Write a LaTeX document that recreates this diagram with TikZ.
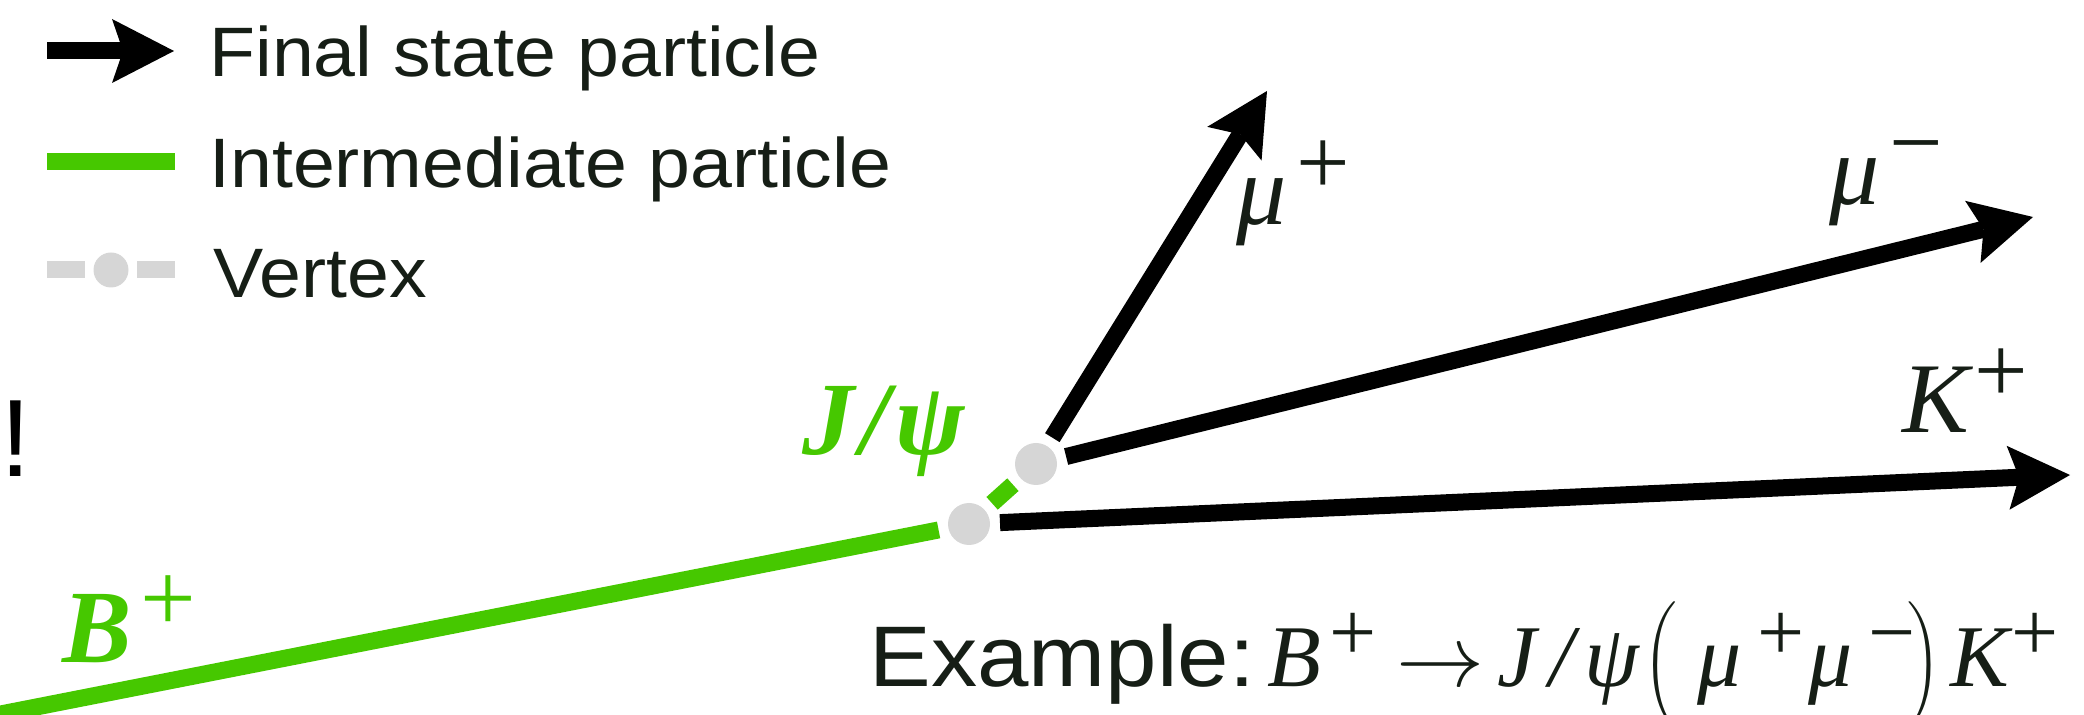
\documentclass[tikz,border=0pt]{standalone}
\usepackage{fontspec}
\usepackage{graphicx}
\setsansfont{Liberation Sans}
\newfontfamily\mserif{Liberation Serif}
\usetikzlibrary{arrows.meta}
\definecolor{pgreen}{RGB}{70,200,0}
\definecolor{vgray}{RGB}{214,214,214}
\definecolor{ink}{RGB}{22,30,22}
\newcommand\supp[1]{\raisebox{0.30em}{\scalebox{0.95}{#1}}}
\newcommand\mi[1]{{\mserif\itshape #1}}
\newcommand\wide[1]{\scalebox{1.075}[1]{#1}}
\newcommand\marrow{\scalebox{2.12}{\fontsize{20.74}{24}\selectfont$\rightarrow$}}
\newcommand\lparen{\scalebox{2.12}{\fontsize{20.74}{24}\selectfont$\left(\vrule height 20pt depth 10pt width 0pt\right.$}}
\newcommand\rparen{\scalebox{2.12}{\fontsize{20.74}{24}\selectfont$\left.\vrule height 20pt depth 10pt width 0pt\right)$}}
\begin{document}
\begin{tikzpicture}[x=0.5pt,y=-0.5pt,
  final/.style={draw=black,line width=8.5pt,-{Stealth[length=31pt,width=32pt,inset=5.5pt,line width=0pt]}},
  inter/.style={draw=pgreen,line width=8.5pt},
  vtx/.style={circle,fill=vgray,minimum size=21pt,inner sep=0pt,outer sep=5pt},
  legtext/.style={anchor=base west,inner sep=0pt,text=ink,font=\sffamily\fontsize{35}{42}\selectfont},
  lbl/.style={anchor=base west,inner sep=0pt,text=ink,font=\mserif\itshape\fontsize{50}{60}\selectfont},
  glbl/.style={anchor=base west,inner sep=0pt,text=pgreen,font=\mserif\bfseries\itshape\fontsize{52}{62}\selectfont}]
\useasboundingbox (0,0) rectangle (2084,715);
\clip (0,0) rectangle (2084,715);
% legend
\coordinate (la1) at (47,51);
\coordinate (la2) at (174,51);
\draw[final] (la1) -- (la2);
\coordinate (lg1) at (47,162);
\coordinate (lg2) at (175,162);
\draw[inter] (lg1) -- (lg2);
\node[vtx,minimum size=17.5pt,outer sep=4.25pt] (lv) at (111,270) {};
\coordinate (lv1) at (47,270);
\coordinate (lv2) at (175,270);
\draw[draw=vgray,line width=8.5pt] (lv1) -- (lv) (lv) -- (lv2);
\node[legtext] (t1) at (209,77) {\wide{Final state particle}};
\node[legtext] (t2) at (209,188) {\wide{Intermediate particle}};
\node[legtext] (t3) at (213,298) {\wide{Vertex}};
\node[anchor=base west,inner sep=0pt,text=black,font=\sffamily\fontsize{55}{60}\selectfont] (excl) at (0,477) {!};
% decay
\node[vtx] (pv) at (969,524) {};
\node[vtx] (sv) at (1036,464) {};
\coordinate (bst) at (-30,720);
\coordinate (mup) at (1267,91);
\coordinate (mum) at (2033,217);
\coordinate (kp) at (2070,475);
\draw[inter] (bst) -- (pv);
\draw[inter] (pv) -- (sv);
\draw[final] (sv) -- (mup);
\draw[final] (sv) -- (mum);
\draw[final] (pv) -- (kp);
% labels
\node[lbl] (lmup) at (1236,225) {μ\hspace{0.1em}\supp{\upshape +}};
\node[lbl] (lmum) at (1829,205) {μ\hspace{0.1em}\supp{\upshape −}};
\node[lbl] (lk) at (1902,433) {K\hspace{0.05em}\supp{\upshape +}};
\node[glbl] (ljpsi) at (802,455) {J\hspace{0.06em}/\hspace{0.06em}ψ};
\node[glbl] (lb) at (62,663) {B\hspace{0.08em}\supp{\mdseries\upshape +}};
\node[anchor=base west,inner sep=0pt,text=ink,font=\sffamily\fontsize{43}{50}\selectfont] (ex) at (869,687)
  {\wide{Example:}\mserif\fontsize{44}{50}\selectfont\hspace{0.15em}\mi{B}\hspace{0.09em}\supp{+}\hspace{0.22em}\marrow\hspace{0.15em}\mi{J\hspace{0.15em}/\hspace{0.12em}ψ}\hspace{0.05em}\lparen\hspace{0.17em}\mi{μ}\hspace{0.18em}\supp{+}\hspace{0.05em}\mi{μ}\hspace{0.18em}\supp{−}\hspace{-0.15em}\rparen\hspace{0.1em}\mi{K}\hspace{0.03em}\supp{+}};
\end{tikzpicture}
\end{document}
